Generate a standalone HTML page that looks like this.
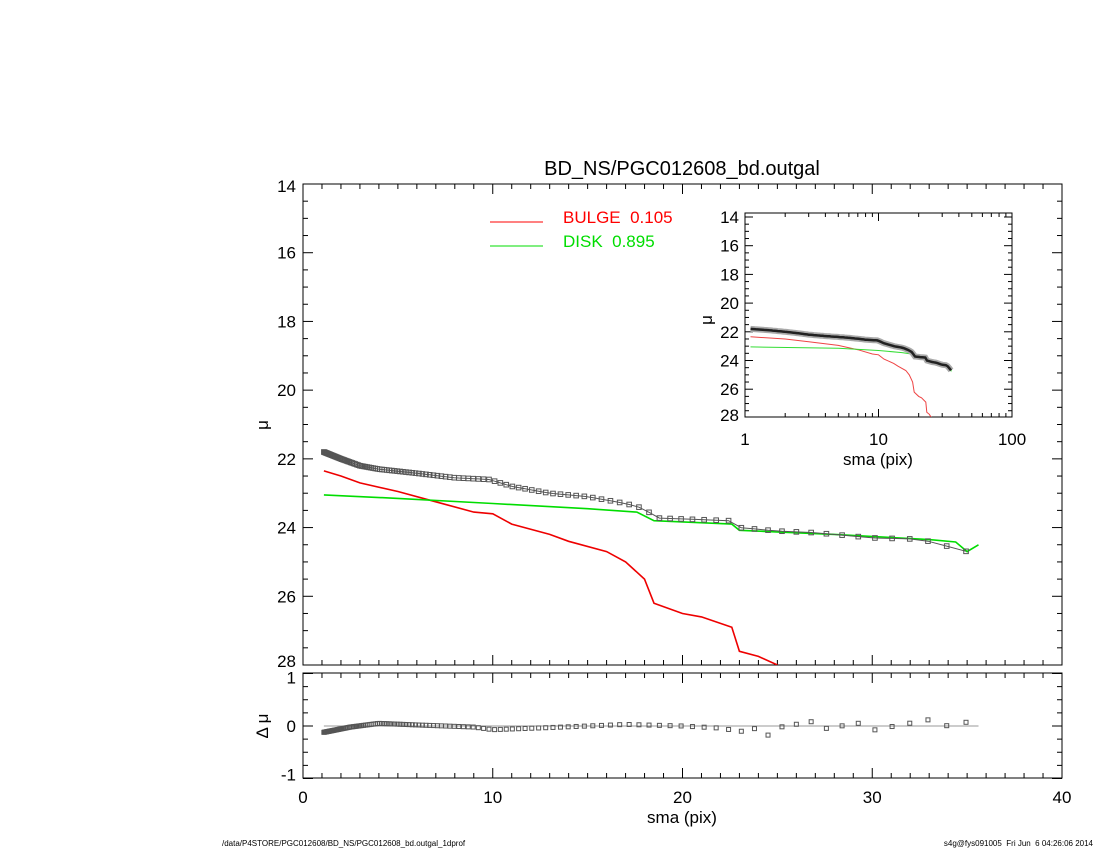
<!DOCTYPE html>
<html><head><meta charset="utf-8"><style>
body{margin:0;background:#fff;width:1100px;height:850px;overflow:hidden;font-family:"Liberation Sans",sans-serif}
svg text{font-family:"Liberation Sans",sans-serif;white-space:pre}
</style></head><body>
<svg id="s" width="1100" height="850" xmlns="http://www.w3.org/2000/svg"></svg>
<script>
const S=document.getElementById('s');let h='';
const L=303,R=1062,T=184,B=665,RT=673,RB=778;
const X=x=>L+(R-L)*x/40, Y=m=>T+(B-T)*(m-14)/14, RY=d=>726-d*52.5;
function interp(a,x){if(x<=a[0][0])return a[0][1];for(let i=1;i<a.length;i++){if(x<=a[i][0]){const p=a[i-1],q=a[i];return p[1]+(q[1]-p[1])*(x-p[0])/(q[0]-p[0]);}}return a[a.length-1][1];}
const D=[[1.1,21.8],[2,22.0],[3,22.2],[4,22.3],[6,22.42],[8,22.55],[9.8,22.6],[11,22.8],[13,23.0],[15,23.1],[17,23.3],[18,23.45],[18.6,23.72],[20,23.75],[22.5,23.8],[23,24.0],[25,24.1],[27,24.15],[30,24.3],[32,24.33],[33,24.4],[34,24.55],[35,24.7],[35.6,24.55]];
const G=[[1.1,23.05],[5,23.15],[10,23.3],[15,23.45],[17.6,23.55],[18.5,23.8],[22.6,23.9],[23,24.08],[28,24.2],[33,24.35],[34.4,24.42],[35,24.7],[35.6,24.5]];
const Rd=[[1.1,22.35],[2,22.5],[3,22.7],[5,22.95],[7,23.25],[9,23.55],[10,23.6],[11,23.9],[13,24.2],[14,24.4],[16,24.7],[17,25.0],[18,25.5],[18.5,26.2],[20,26.5],[21,26.6],[22.6,26.9],[23,27.6],[24,27.75],[25,28.0]];
const RES=[[1.1,-0.12],[2.5,-0.02],[4,0.05],[6,0.02],[9,-0.02],[10,-0.07],[13,-0.03],[15,0],[17,0.03],[20,0],[22,-0.04],[23,-0.1],[24.5,-0.1],[25,0.01],[30,0],[35.6,0.08]];
const xs=[];for(let k=0;;k++){const x=1.1*Math.pow(1.03,k);if(x>35.7)break;xs.push(x);}
function poly(a,fx,fy,col,w,clip){let p=a.map(v=>fx(v[0]).toFixed(1)+','+fy(v[1]).toFixed(1)).join(' ');return `<polyline points="${p}" fill="none" stroke="${col}" stroke-width="${w}" ${clip||''}/>`;}
h+=`<defs><clipPath id="c1"><rect x="${L}" y="${T}" width="${R-L}" height="${B-T}"/></clipPath><clipPath id="c2"><rect x="745" y="213" width="267" height="204"/></clipPath></defs>`;
h+=`<rect x="${L}" y="${T}" width="${R-L}" height="${B-T}" fill="none" stroke="#000" stroke-width="1"/>`;
h+=`<rect x="${L}" y="${RT}" width="${R-L}" height="${RB-RT}" fill="none" stroke="#000" stroke-width="1"/>`;
for(let i=0;i<=40;i++){const x=X(i);const l=i%10==0?10:5;
h+=`<line x1="${x}" y1="${B}" x2="${x}" y2="${B-l}" stroke="#000"/><line x1="${x}" y1="${T}" x2="${x}" y2="${T+l}" stroke="#000"/>`;
h+=`<line x1="${x}" y1="${RB}" x2="${x}" y2="${RB-l}" stroke="#000"/><line x1="${x}" y1="${RT}" x2="${x}" y2="${RT+l}" stroke="#000"/>`;
if(i%10==0)h+=`<text x="${x}" y="803" font-size="17" text-anchor="middle">${i}</text>`;}
for(let m=14;m<=28;m+=0.5){const y=Y(m);const l=m%2==0?10:5;
h+=`<line x1="${L}" y1="${y}" x2="${L+l}" y2="${y}" stroke="#000"/><line x1="${R}" y1="${y}" x2="${R-l}" y2="${y}" stroke="#000"/>`;
if(m%2==0){let ty=y+6;if(m==14)ty=y+8;if(m==28)ty=y+2;h+=`<text x="${L-7}" y="${ty}" font-size="17" text-anchor="end">${m}</text>`;}}
for(let d=-1;d<=1;d+=0.25){const y=RY(d);const l=Math.abs(d%1)<1e-9?10:5;
h+=`<line x1="${L}" y1="${y}" x2="${L+l}" y2="${y}" stroke="#000"/><line x1="${R}" y1="${y}" x2="${R-l}" y2="${y}" stroke="#000"/>`;
if(Math.abs(d%1)<1e-9){let ty=y+6;if(d==1)ty=y+10;if(d==-1)ty=y+2;h+=`<text x="${L-7}" y="${ty}" font-size="17" text-anchor="end">${d}</text>`;}}
h+=`<text x="682" y="823" font-size="17" text-anchor="middle">sma (pix)</text>`;
h+=`<text x="682" y="175" font-size="20" text-anchor="middle">BD_NS/PGC012608_bd.outgal</text>`;
h+=`<text transform="translate(268,425) rotate(-90)" font-size="17" text-anchor="middle">μ</text>`;
h+=`<text transform="translate(268,726) rotate(-90)" font-size="17" text-anchor="middle">Δ μ</text>`;
h+=`<line x1="490" y1="222" x2="543" y2="222" stroke="#f00"/><text x="563" y="223" font-size="17" fill="#f00">BULGE  0.105</text>`;
h+=`<line x1="490" y1="246" x2="543" y2="246" stroke="#0d0"/><text x="563" y="247" font-size="17" fill="#0d0">DISK  0.895</text>`;
h+=poly(Rd,X,Y,'#e00',1.6,'clip-path="url(#c1)"');
h+=poly(G,X,Y,'#0d0',1.6);
h+=poly(xs.map(x=>[x,interp(D,x)]),X,Y,'#555',1);
xs.forEach(x=>{const y=Y(interp(D,x));h+=`<rect x="${X(x)-2.3}" y="${y-2.3}" width="4.6" height="4.6" fill="none" stroke="#555" stroke-width="1"/>`;});
h+=`<line x1="${X(1.1)}" y1="726" x2="${X(35.6)}" y2="726" stroke="#999"/>`;
xs.forEach((x,i)=>{let d=interp(RES,x);if(x>23)d+=((i*37)%7-3)*0.025;const y=RY(d);h+=`<rect x="${X(x)-2}" y="${y-2}" width="4" height="4" fill="none" stroke="#555" stroke-width="1"/>`;});
const IX=x=>745+267*Math.log10(x)/2, IY=m=>217+14.35*(m-14);
h+=`<rect x="745" y="213" width="267" height="204" fill="none" stroke="#000"/>`;
for(let dcd=1;dcd<=100;dcd*=10){for(let k=1;k<10;k++){const v=dcd*k;if(v>100)break;const x=IX(v);const l=k==1?8:4;
h+=`<line x1="${x}" y1="417" x2="${x}" y2="${417-l}" stroke="#000"/><line x1="${x}" y1="213" x2="${x}" y2="${213+l}" stroke="#000"/>`;}
h+=`<text x="${IX(dcd)}" y="445" font-size="17" text-anchor="middle">${dcd}</text>`;}
for(let m=14;m<=28;m+=0.5){const y=IY(m);if(y<213||y>417)continue;const l=m%2==0?8:4;
h+=`<line x1="745" y1="${y}" x2="${745+l}" y2="${y}" stroke="#000"/><line x1="1012" y1="${y}" x2="${1012-l}" y2="${y}" stroke="#000"/>`;}
for(let m=14;m<=28;m+=2){h+=`<text x="739" y="${Math.min(IY(m)+6,421)}" font-size="17" text-anchor="end">${m}</text>`;}
h+=`<text x="878" y="465" font-size="17" text-anchor="middle">sma (pix)</text>`;
h+=`<text transform="translate(712,320) rotate(-90)" font-size="17" text-anchor="middle">μ</text>`;
h+=poly(Rd,IX,IY,'#e44',1,'clip-path="url(#c2)"');
h+=poly(G,IX,IY,'#3d3',1);
h+=poly(xs.map(x=>[x,interp(D,x)]),IX,IY,'#aaa',6);
h+=poly(xs.map(x=>[x,interp(D,x)]),IX,IY,'#222',2.5);
h+=`<text x="222" y="846" font-size="8">/data/P4STORE/PGC012608/BD_NS/PGC012608_bd.outgal_1dprof</text>`;
h+=`<text x="1093" y="846" font-size="8" text-anchor="end">s4g@fys091005  Fri Jun  6 04:26:06 2014</text>`;
S.innerHTML=h;
</script>
</body></html>
